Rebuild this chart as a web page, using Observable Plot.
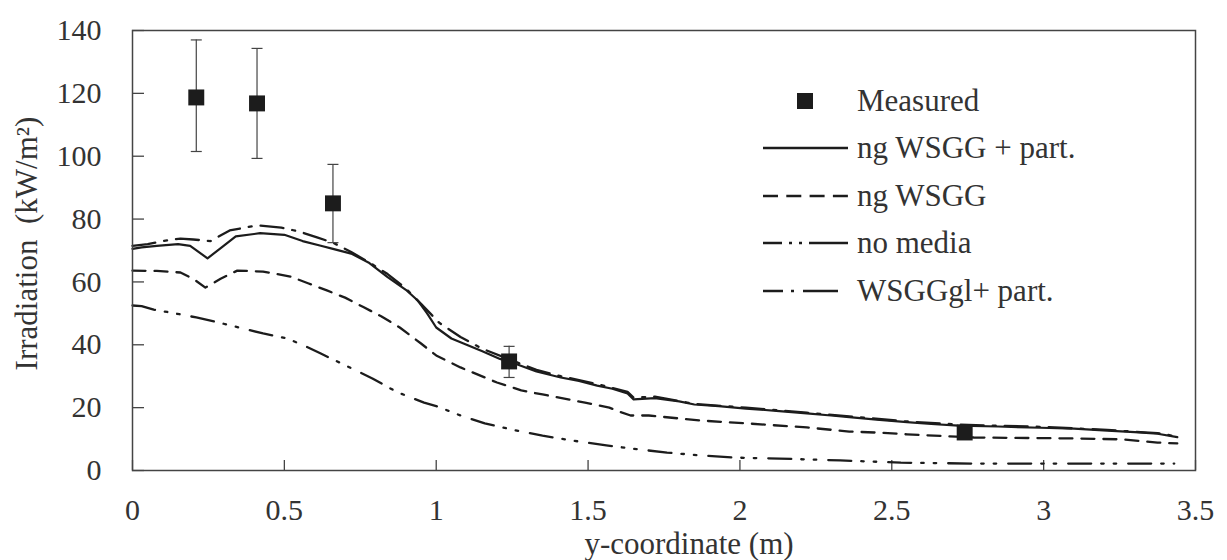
<!DOCTYPE html>
<html>
<head>
<meta charset="utf-8">
<script src="https://cdn.jsdelivr.net/npm/d3@7"></script>
<script src="https://cdn.jsdelivr.net/npm/@observablehq/plot@0.6"></script>
<style>
  html, body { margin: 0; padding: 0; background: #fff; }
  #wrap { position: relative; width: 1227px; height: 560px; font-family: "Liberation Serif", "Times New Roman", Tinos, "Noto Serif", "DejaVu Serif", FreeSerif, "Nimbus Roman", Times, serif; }
  #wrap svg, #wrap svg text { font-family: "Liberation Serif", "Times New Roman", Tinos, "Noto Serif", "DejaVu Serif", FreeSerif, "Nimbus Roman", Times, serif !important; }
  #legend { position: absolute; left: 0; top: 0; pointer-events: none; }
</style>
</head>
<body>
<div id="wrap"></div>
<script>
// ---- data ----
const xTicks = [0, 0.5, 1, 1.5, 2, 2.5, 3, 3.5];
const yTicks = [0, 20, 40, 60, 80, 100, 120, 140];
const xLabel = "y-coordinate (m)";
const yLabel = "Irradiation  (kW/m²)";
const seriesNames = ["Measured", "ng WSGG + part.", "ng WSGG", "no media", "WSGGgl+ part."];

const measuredX  = [0.21, 0.41, 0.66, 1.24, 2.74];
const measuredY  = [118.7, 116.8, 85, 34.7, 12.1];
const measuredLo = [101.5, 99.3, 72.5, 29.6, null];
const measuredHi = [137, 134.3, 97.4, 39.5, null];

const ngPartX = [0, 0.03, 0.08, 0.15, 0.19, 0.247, 0.3, 0.34, 0.42, 0.5, 0.56, 0.62, 0.66, 0.72, 0.78, 0.84, 0.9, 0.94, 0.97, 1.0, 1.05, 1.09, 1.15, 1.21, 1.245, 1.33, 1.41, 1.47, 1.53, 1.58, 1.63, 1.65, 1.72, 1.8, 1.85, 1.93, 2.02, 2.12, 2.22, 2.3, 2.36, 2.45, 2.55, 2.63, 2.72, 2.85, 2.99, 3.1, 3.21, 3.3, 3.375, 3.44];
const ngPartY = [70.5, 71, 71.5, 72, 71.5, 67.5, 71.5, 74.5, 75.5, 75, 73, 71.5, 70.5, 69, 66, 61.5, 57.5, 54, 50, 45.5, 42, 40.4, 38, 35.5, 34.5, 31.5, 29.6, 28.5, 27, 26, 24.5, 22.6, 23, 22, 21, 20.5, 19.7, 19, 18.2, 17.5, 17, 16.2, 15.4, 14.8, 14.3, 14, 13.6, 13.3, 12.7, 12.2, 11.7, 10.6];

const glPartX = [0, 0.05, 0.1, 0.158, 0.2, 0.257, 0.32, 0.41, 0.49, 0.55, 0.61, 0.66, 0.72, 0.78, 0.84, 0.9, 0.95, 1.01, 1.08, 1.15, 1.25, 1.33, 1.41, 1.53, 1.63, 1.65, 1.72, 1.85, 2.02, 2.22, 2.36, 2.55, 2.72, 2.99, 3.21, 3.375, 3.44];
const glPartY = [71.5, 72, 73, 73.8, 73.5, 73, 76.4, 78, 77.3, 76, 74.1, 72.5, 69.5, 66.2, 62.5, 57.9, 53, 47, 42.5, 38.8, 35, 32, 30, 27.5, 25, 23.2, 23.5, 21.2, 20, 18.4, 17.2, 15.6, 14.6, 13.9, 12.9, 11.9, 10.8];

const ngX = [0, 0.08, 0.158, 0.2, 0.24, 0.29, 0.345, 0.43, 0.52, 0.58, 0.64, 0.7, 0.76, 0.82, 0.88, 0.95, 1.0, 1.08, 1.2, 1.28, 1.35, 1.49, 1.57, 1.61, 1.64, 1.7, 1.87, 2.02, 2.22, 2.36, 2.47, 2.55, 2.77, 3.1, 3.26, 3.375, 3.44];
const ngY = [63.6, 63.5, 63, 61, 58.2, 61, 63.6, 63.3, 61.7, 59.5, 57.3, 55, 52, 49, 45.5, 40.4, 36.6, 32.8, 28, 25.5, 24.2, 21.6, 20, 18.5, 17.5, 17.5, 15.9, 15, 13.7, 12.4, 12, 11.5, 10.5, 10.2, 9.9, 8.9, 8.6];

const noMediaX = [0, 0.03, 0.07, 0.14, 0.21, 0.27, 0.35, 0.43, 0.51, 0.57, 0.62, 0.7, 0.79, 0.87, 0.96, 1.0, 1.08, 1.16, 1.25, 1.35, 1.45, 1.56, 1.66, 1.76, 1.87, 1.98, 2.13, 2.33, 2.53, 2.77, 3.1, 3.43];
const noMediaY = [52.5, 52.3, 51.2, 50, 48.7, 47.4, 45.5, 43.6, 42, 39.5, 37.2, 33.5, 29.3, 25, 21.6, 20.5, 17.5, 15, 13, 11.1, 9.5, 8, 6.8, 5.7, 4.8, 4.1, 3.8, 3.2, 2.5, 2.2, 2.2, 2.2];

// ---- build tables ----
const zip = (xs, ys) => xs.map((x, i) => ({x, y: ys[i]}));
const ngPart = zip(ngPartX, ngPartY);
const glPart = zip(glPartX, glPartY);
const ng = zip(ngX, ngY);
const noMedia = zip(noMediaX, noMediaY);
const measured = measuredX.map((x, i) => ({x, y: measuredY[i], lo: measuredLo[i], hi: measuredHi[i]}));
const withErr = measured.filter(d => d.lo != null);

const W = 1227, H = 560;
const mL = 132, mR = 32, mT = 30, mB = 90;
const frameW = W - mL - mR, frameH = H - mT - mB;
const FONT = '"Liberation Serif", "Times New Roman", Tinos, "Noto Serif", "DejaVu Serif", FreeSerif, "Nimbus Roman", Times, serif';
const FS = 30;      // tick labels
const FL = 31;      // axis titles and legend
const INK = "#1c1c1c";
const TXT = "#333";

const capSymbol = {
  draw(ctx, size) {
    const h = Math.sqrt(size / Math.PI);
    ctx.moveTo(-h, 0);
    ctx.lineTo(h, 0);
  }
};

const chart = Plot.plot({
  width: W, height: H,
  marginLeft: mL, marginRight: mR, marginTop: mT, marginBottom: mB,
  style: {fontFamily: FONT, fontSize: FS + "px", color: TXT, background: "#fff"},
  x: {domain: [0, 3.5]},
  y: {domain: [0, 140]},
  marks: [
    Plot.tickY(yTicks, {y: d => d, insetRight: frameW - 12, stroke: "#444", strokeWidth: 1.3}),
    Plot.tickX(xTicks, {x: d => d, insetTop: frameH - 10, stroke: "#444", strokeWidth: 1.3}),
    Plot.axisY({ticks: yTicks, tickSize: 0, tickPadding: 31, label: null, fontSize: FS, fill: TXT, tickFormat: d => String(d)}),
    Plot.axisX({ticks: xTicks, tickSize: 0, tickPadding: 28, label: null, fontSize: FS, fill: TXT, tickFormat: d => String(d)}),
    Plot.text([yLabel], {text: d => d, frameAnchor: "left", textAnchor: "middle", lineAnchor: "middle", rotate: -90, dx: -105, dy: -7, fontSize: FL, fill: TXT}),
    Plot.text([xLabel], {text: d => d, frameAnchor: "bottom", textAnchor: "middle", lineAnchor: "middle", dx: 25, dy: 74, fontSize: FL, fill: TXT}),
    Plot.line(noMedia, {x: "x", y: "y", stroke: INK, strokeWidth: 2.3, strokeDasharray: "23,10,2.5,10,2.5,12"}),
    Plot.line(ng, {x: "x", y: "y", stroke: INK, strokeWidth: 2.3, strokeDasharray: "13,9"}),
    Plot.line(glPart, {x: "x", y: "y", stroke: INK, strokeWidth: 2.3, strokeDasharray: "23,9,3,9"}),
    Plot.line(ngPart, {x: "x", y: "y", stroke: INK, strokeWidth: 2.2}),
    Plot.ruleX(withErr, {x: "x", y1: "lo", y2: "hi", stroke: "#444", strokeWidth: 1.2}),
    Plot.dot(withErr, {x: "x", y: "hi", symbol: capSymbol, r: 5.5, stroke: "#444", strokeWidth: 1.2, fill: "none"}),
    Plot.dot(withErr, {x: "x", y: "lo", symbol: capSymbol, r: 5.5, stroke: "#444", strokeWidth: 1.2, fill: "none"}),
    Plot.dot(measured, {x: "x", y: "y", symbol: "square", r: 9, fill: INK, stroke: "none"}),
    Plot.frame({stroke: "#444", strokeWidth: 1.5})
  ]
});

const wrap = document.getElementById("wrap");
wrap.appendChild(chart);

// ---- legend (overlay inside the plot frame) ----
const lg = d3.create("svg").attr("id", "legend").attr("width", W).attr("height", H)
  .style("font-family", FONT).style("font-size", FL + "px");
const rows = [101, 148, 196, 243, 291];
const lineX1 = 763, lineX2 = 848, textX = 857;
const legendDash = [null, null, "15,8.3", "19,7,3,7,3,7,40", "20,8,3,9,45"];
lg.append("rect").attr("x", 797).attr("y", rows[0] - 8).attr("width", 16).attr("height", 16).attr("fill", INK);
for (let i = 1; i < 5; i++) {
  const l = lg.append("line").attr("x1", lineX1).attr("x2", i === 4 ? 838 : lineX2)
    .attr("y1", rows[i]).attr("y2", rows[i]).attr("stroke", INK).attr("stroke-width", 2.3);
  if (legendDash[i]) l.attr("stroke-dasharray", legendDash[i]);
}
seriesNames.forEach((name, i) => {
  lg.append("text").attr("x", textX).attr("y", rows[i]).attr("dy", "0.32em")
    .attr("fill", TXT).text(name);
});
wrap.appendChild(lg.node());
</script>
</body>
</html>
